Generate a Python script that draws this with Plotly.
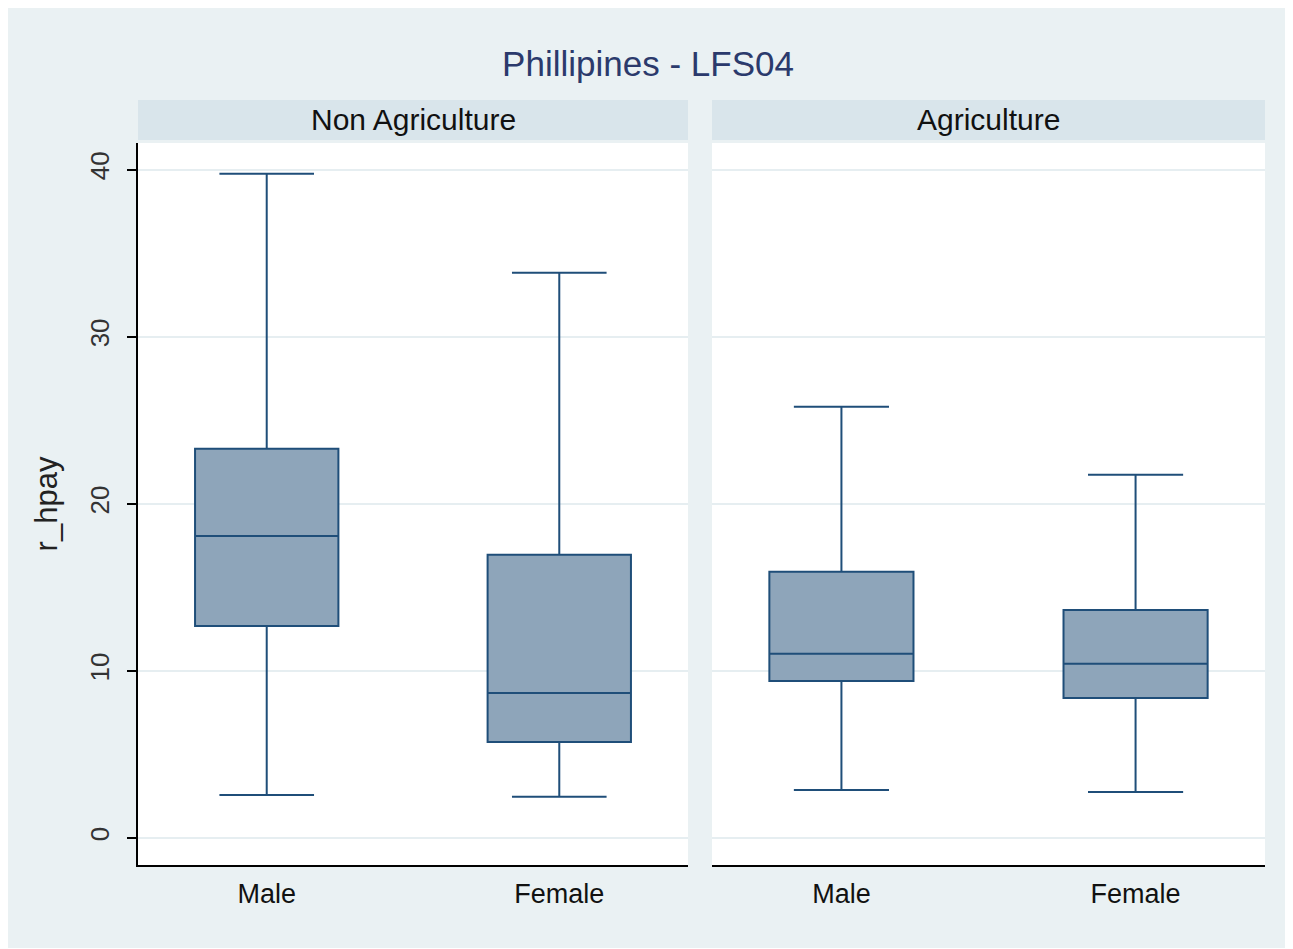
import plotly.graph_objects as go
from plotly.subplots import make_subplots

# ---- data ----
sexes = ["Male", "Female"]
panels = ["Non Agriculture", "Agriculture"]

nonag_lower = [2.57, 2.46]
nonag_q1 = [12.69, 5.75]
nonag_median = [18.08, 8.68]
nonag_q3 = [23.29, 16.95]
nonag_upper = [39.76, 33.83]

ag_lower = [2.87, 2.75]
ag_q1 = [9.40, 8.38]
ag_median = [11.02, 10.42]
ag_q3 = [15.93, 13.65]
ag_upper = [25.81, 21.74]

y_ticks = [0, 10, 20, 30, 40]

# ---- styles ----
BG = "#eaf1f3"
STRIP = "#d9e5eb"
FILL = "#8ea5ba"
LINE = "#1f4e79"
GRID = "#e6eef1"
FONT = "Liberation Sans, Arial, sans-serif"

fig = make_subplots(rows=1, cols=2, shared_yaxes=True, horizontal_spacing=0.02)

for col, (lo, q1, med, q3, up) in enumerate(
    [(nonag_lower, nonag_q1, nonag_median, nonag_q3, nonag_upper),
     (ag_lower, ag_q1, ag_median, ag_q3, ag_upper)], start=1):
    fig.add_trace(go.Box(
        x=sexes, q1=q1, median=med, q3=q3, lowerfence=lo, upperfence=up,
        fillcolor=FILL, line=dict(color=LINE, width=2),
        width=0.49, whiskerwidth=0.66, boxpoints=False,
        showlegend=False, hoverinfo="skip", name=panels[col - 1],
    ), row=1, col=col)

d1 = [0, 550 / 1127]
d2 = [574 / 1127, 1]

fig.update_layout(
    width=1280, height=940,
    margin=dict(l=130, r=23, t=135, b=83),
    paper_bgcolor=BG, plot_bgcolor="white",
    font=dict(family=FONT, color="#222222"),
    title=dict(text="Phillipines - LFS04", x=0.5, xanchor="center",
               y=1 - 56 / 940, yanchor="middle",
               font=dict(size=35, color="#2b3a6c", family=FONT)),
)

for i, dom in [(1, d1), (2, d2)]:
    xa = "xaxis" if i == 1 else "xaxis2"
    fig.layout[xa].update(
        domain=dom, type="category", categoryorder="array", categoryarray=sexes,
        range=[-0.44, 1.44], showline=True, linecolor="black", linewidth=2,
        ticks="", showgrid=False, zeroline=False, ticklabelstandoff=4,
        tickfont=dict(size=27, color="#111111", family=FONT),
    )

fig.update_yaxes(
    range=[-1.62, 41.6], tickvals=y_ticks, showgrid=True, gridcolor=GRID,
    gridwidth=1.5, zeroline=False,
)
fig.layout.yaxis.update(
    showline=True, linecolor="black", linewidth=2, ticks="outside",
    ticklen=9, tickwidth=1.5, tickcolor="black", tickangle=-90,
    ticklabelstandoff=8,
    tickfont=dict(size=26, color="#333333", family=FONT),
    title=dict(text="r_hpay", font=dict(size=31, color="#222222", family=FONT),
               standoff=18),
)
fig.layout.yaxis2.update(showline=False, ticks="", showticklabels=False)

plot_h = 940 - 135 - 83
for dom, label in [(d1, panels[0]), (d2, panels[1])]:
    fig.add_shape(type="rect", xref="paper", yref="paper",
                  x0=dom[0], x1=dom[1], y0=1 + 3 / plot_h, y1=1 + 43 / plot_h,
                  fillcolor=STRIP, line=dict(width=0), layer="below")
    fig.add_annotation(text=label, xref="paper", yref="paper",
                       x=(dom[0] + dom[1]) / 2, y=1 + 23 / plot_h,
                       xanchor="center", yanchor="middle", showarrow=False,
                       font=dict(size=30, color="#111111", family=FONT))

fig.write_html("out.html")
